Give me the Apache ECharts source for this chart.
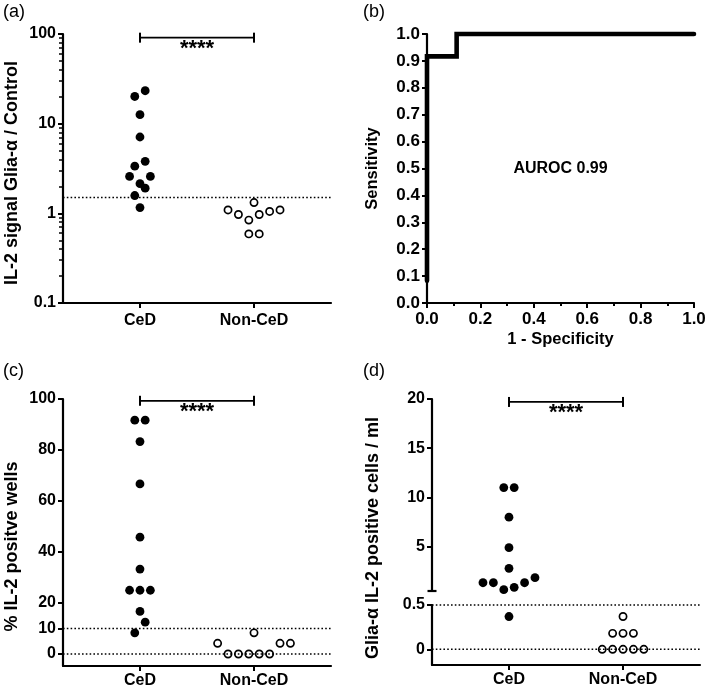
<!DOCTYPE html>
<html>
<head>
<meta charset="utf-8">
<script src="https://cdn.jsdelivr.net/npm/echarts@6.0.0/dist/echarts.min.js"></script>
<style>
  html, body { margin: 0; padding: 0; background: #fff; }
  #chart { width: 709px; height: 696px; }
</style>
</head>
<body>
<div id="chart"></div>
<script>
var groups = ['CeD', 'Non-CeD'];

// (a) IL-2 signal Glia-α / Control (log)
var ratioCeD = [23.3, 20.1, 12.6, 7.1, 3.8, 3.36, 2.58, 2.58, 2.14, 1.91, 1.58, 1.16];
var ratioNon = [1.32, 1.09, 1.09, 1.05, 0.97, 0.97, 0.84, 0.59, 0.59];
var ratioCutoff = [1.5];
var ratioMinorTicks = [0.2, 0.3, 0.4, 0.5, 0.6, 0.7, 0.8, 0.9, 2, 3, 4, 5, 6, 7, 8, 9, 20, 30, 40, 50, 60, 70, 80, 90];

// (b) ROC curve
var rocFpr = [0, 0, 0.111, 0.111, 1];
var rocTpr = [0.083, 0.917, 0.917, 1, 1];
var aurocText = 'AUROC 0.99';

// (c) % IL-2 positive wells
var wellsCeD = [91.7, 91.7, 83.3, 66.7, 45.8, 33.3, 25, 25, 25, 16.7, 12.5, 8.3];
var wellsNon = [8.3, 4.2, 4.2, 4.2, 0, 0, 0, 0, 0];
var wellsCutoffs = [0, 10];
var wellsTicks = [0, 10, 20, 40, 60, 80, 100];

// (d) Glia-α IL-2 positive cells / ml (broken axis at 0.5)
var cellsCeD = [11, 11, 8, 4.9, 2.8, 1.85, 1.34, 1.34, 1.34, 0.87, 0.63, 0.37];
var cellsNon = [0.37, 0.18, 0.18, 0.18, 0, 0, 0, 0, 0];
var cellsCutoffs = [0, 0.5];
var cellsUpperTicks = [5, 10, 15, 20];
var cellsLowerTicks = [0, 0.5];

var FONT = "'Liberation Sans', Arial, Helvetica, sans-serif";
var ink = '#000';
var XMIN = 0.325, XMAX = 2.675;

var chart = echarts.init(document.getElementById('chart'));

function lbl(size, extra) {
    return echarts.util.merge({ color: ink, fontFamily: FONT, fontWeight: 'bold', fontSize: size }, extra || {}, true);
}

function groupAxis(gridIndex, show, margin) {
    return {
        type: 'value', gridIndex: gridIndex, min: XMIN, max: XMAX, show: show,
        axisLine: { show: true, onZero: false, lineStyle: { color: ink, width: 2.2 } },
        axisTick: { show: true, customValues: [1, 2], length: 5, lineStyle: { color: ink, width: 2 } },
        axisLabel: lbl(16, { customValues: [1, 2], margin: margin, formatter: function (v) { return groups[Math.round(v) - 1]; } }),
        splitLine: { show: false }
    };
}

function valAxis(gridIndex, extra) {
    return echarts.util.merge({
        type: 'value', gridIndex: gridIndex, position: 'left',
        axisLine: { show: true, onZero: false, lineStyle: { color: ink, width: 2.2 } },
        axisTick: { show: true, length: 5, lineStyle: { color: ink, width: 2 } },
        axisLabel: lbl(16, { margin: 7 }),
        splitLine: { show: false },
        nameTextStyle: lbl(18)
    }, extra, true);
}

function hline(g, y) {
    return {
        type: 'line', xAxisIndex: g, yAxisIndex: g, data: [[XMIN, y], [XMAX, y]],
        symbol: 'none', silent: true, clip: false,
        lineStyle: { color: ink, width: 1.4, type: [1.6, 2.2], opacity: 1 }
    };
}

function sigBar(g, y) {
    return [{
        type: 'line', xAxisIndex: g, yAxisIndex: g, data: [[1, y], [2, y]],
        symbol: 'rect', symbolSize: [2, 10], clip: false, silent: true,
        itemStyle: { color: ink, opacity: 1 }, lineStyle: { color: ink, width: 1.8, opacity: 1 }
    }, {
        type: 'scatter', xAxisIndex: g, yAxisIndex: g, data: [[1.5, y]], symbolSize: 0, clip: false, silent: true,
        itemStyle: { opacity: 1 },
        label: lbl(22, { show: true, position: 'bottom', distance: 0, formatter: '****', opacity: 1 })
    }];
}

function dots(pts, g, open) {
    var data = pts.filter(function (p) { return p.g === g; }).map(function (p) { return [p.x, p.v]; });
    return {
        type: 'scatter', xAxisIndex: g, yAxisIndex: g, data: data, clip: false,
        symbol: 'circle', symbolSize: open ? 7.2 : 8.8,
        itemStyle: open ? { color: 'rgba(0,0,0,0)', borderColor: ink, borderWidth: 1.7, opacity: 1 }
                        : { color: ink, opacity: 1 }
    };
}

// GraphPad-like column scatter: bin points by pixel row, spread each row around the column centre
function swarm(values, group, gridOf, binH, y0, step) {
    var pts = values.map(function (v) {
        var g = gridOf(v);
        var p = chart.convertToPixel({ gridIndex: g }, [group, v]);
        var p2 = chart.convertToPixel({ gridIndex: g }, [group + 1, v]);
        return { v: v, g: g, py: p[1], unit: p2[0] - p[0], x: group };
    });
    var bins = {};
    pts.forEach(function (p) {
        var k = Math.floor((p.py - y0) / binH);
        (bins[k] = bins[k] || []).push(p);
    });
    Object.keys(bins).forEach(function (k) {
        var row = bins[k].sort(function (a, b) { return a.v - b.v; });
        var slots = row.map(function (_, i) { return i - (row.length - 1) / 2; });
        slots.sort(function (a, b) { return Math.abs(a) - Math.abs(b) || a - b; });
        row.forEach(function (p, i) { p.x = group + slots[i] * step / p.unit; });
    });
    return pts;
}

function build(sw) {
    var series = [];
    // (a)
    series.push(hline(0, ratioCutoff[0]));
    series = series.concat(sigBar(0, 91));
    series.push(dots(sw.aC, 0, false), dots(sw.aN, 0, true));
    // (b)
    series.push({
        type: 'line', xAxisIndex: 1, yAxisIndex: 1, clip: false, symbol: 'none', z: 5,
        data: rocFpr.map(function (x, i) { return [x, rocTpr[i]]; }),
        lineStyle: { color: ink, width: 4.6, cap: 'round', join: 'miter', opacity: 1 }
    });
    series.push({
        type: 'scatter', xAxisIndex: 1, yAxisIndex: 1, data: [[0.5, 0.5]], symbolSize: 0, silent: true,
        itemStyle: { opacity: 1 },
        label: lbl(16, { show: true, position: 'inside', formatter: aurocText, opacity: 1 })
    });
    // (c)
    wellsCutoffs.forEach(function (c) { series.push(hline(2, c)); });
    series = series.concat(sigBar(2, 99.3));
    series.push(dots(sw.cC, 2, false), dots(sw.cN, 2, true));
    // (d)
    cellsCutoffs.forEach(function (c) { series.push(hline(4, c)); });
    series = series.concat(sigBar(3, 19.7));
    series.push(dots(sw.dC, 3, false), dots(sw.dC, 4, false), dots(sw.dN, 3, true), dots(sw.dN, 4, true));

    var graphic = [
        { type: 'text', left: 3, top: 3, style: { text: '(a)', font: '18px ' + FONT, fill: ink } },
        { type: 'text', left: 363, top: 3, style: { text: '(b)', font: '18px ' + FONT, fill: ink } },
        { type: 'text', left: 3, top: 362, style: { text: '(c)', font: '18px ' + FONT, fill: ink } },
        { type: 'text', left: 363, top: 362, style: { text: '(d)', font: '18px ' + FONT, fill: ink } },
        { type: 'text', x: 373, y: 538, rotation: Math.PI / 2,
          style: { text: 'Glia-α IL-2 positive cells / ml', font: 'bold 18px ' + FONT, fill: ink, align: 'center', verticalAlign: 'middle' } }
    ];
    if (sw.stub) {
        graphic.push({ type: 'line', shape: { x1: sw.stub[0] - 4.5, y1: sw.stub[1], x2: sw.stub[0] + 4.5, y2: sw.stub[1] },
            style: { stroke: ink, lineWidth: 2.2 } });
    }

    return {
        animation: false,
        backgroundColor: '#fff',
        textStyle: { fontFamily: FONT },
        grid: [
            { left: 63, top: 34, width: 268, height: 269, outerBoundsMode: 'none' },
            { left: 427, top: 34, width: 267, height: 269, outerBoundsMode: 'none' },
            { left: 63, top: 399, width: 268, height: 267, outerBoundsMode: 'none' },
            { left: 432, top: 399, width: 268, height: 192, outerBoundsMode: 'none' },
            { left: 432, top: 605, width: 268, height: 60, outerBoundsMode: 'none' }
        ],
        xAxis: [
            groupAxis(0, true, 10),
            {
                type: 'value', gridIndex: 1, min: 0, max: 1, interval: 0.2,
                name: '1 - Specificity', nameLocation: 'middle', nameGap: 28, nameTextStyle: lbl(16.5),
                axisLine: { show: true, onZero: false, lineStyle: { color: ink, width: 2.2 } },
                axisTick: { show: true, length: 5, lineStyle: { color: ink, width: 2 } },
                minorTick: { show: true, splitNumber: 2, length: 3, lineStyle: { color: ink, width: 2 } },
                axisLabel: lbl(17, { margin: 8, formatter: function (v) { return v.toFixed(1); } }),
                splitLine: { show: false }
            },
            groupAxis(2, true, 7),
            groupAxis(3, false, 7),
            groupAxis(4, true, 7)
        ],
        yAxis: [
            valAxis(0, { type: 'log', logBase: 10, min: 0.1, max: 100,
                name: 'IL-2 signal Glia-α / Control', nameLocation: 'middle', nameGap: 42,
                nameTextStyle: { padding: [0, 9, 0, 0] } }),
            valAxis(1, { min: 0, max: 1, interval: 0.1,
                name: 'Sensitivity', nameLocation: 'middle', nameGap: 46, nameTextStyle: { fontSize: 16.5 },
                axisLabel: { fontSize: 17, formatter: function (v) { return v.toFixed(1); } } }),
            valAxis(2, { min: -4.7, max: 100,
                name: '% IL-2 positve wells', nameLocation: 'middle', nameGap: 42,
                nameTextStyle: { padding: [0, 28, 0, 0] },
                axisTick: { customValues: wellsTicks }, axisLabel: { customValues: wellsTicks } }),
            valAxis(3, { min: 0.5, max: 20,
                axisTick: { customValues: cellsUpperTicks }, axisLabel: { customValues: cellsUpperTicks } }),
            valAxis(4, { min: -0.177, max: 0.5,
                axisTick: { customValues: cellsLowerTicks }, axisLabel: { customValues: cellsLowerTicks } }),
            {
                type: 'value', gridIndex: 0, position: 'left', min: -1, max: 2,
                axisLine: { show: false }, axisLabel: { show: false }, splitLine: { show: false },
                axisTick: { show: true, length: 4, customValues: ratioMinorTicks.map(Math.log10),
                    lineStyle: { color: ink, width: 1.5 } }
            }
        ],
        graphic: graphic,
        series: series
    };
}

function cellsGrid(v) { return v > 0.5 ? 3 : 4; }
function g0() { return 0; }
function g2() { return 2; }

chart.setOption(build({ aC: [], aN: [], cC: [], cN: [], dC: [], dN: [] }));

var STEP = 10.4, BIN = 17.5;
var sw = {
    aC: swarm(ratioCeD, 1, g0, BIN, 204.5, STEP),
    aN: swarm(ratioNon, 2, g0, BIN, 204.5, STEP),
    cC: swarm(wellsCeD, 1, g2, BIN, 620.5, STEP),
    cN: swarm(wellsNon, 2, g2, BIN, 620.5, STEP),
    dC: swarm(cellsCeD, 1, cellsGrid, BIN, 626, STEP),
    dN: swarm(cellsNon, 2, cellsGrid, BIN, 626, STEP),
    stub: chart.convertToPixel({ gridIndex: 3 }, [XMIN, 0.5])
};
chart.setOption(build(sw), true);
</script>
</body>
</html>
